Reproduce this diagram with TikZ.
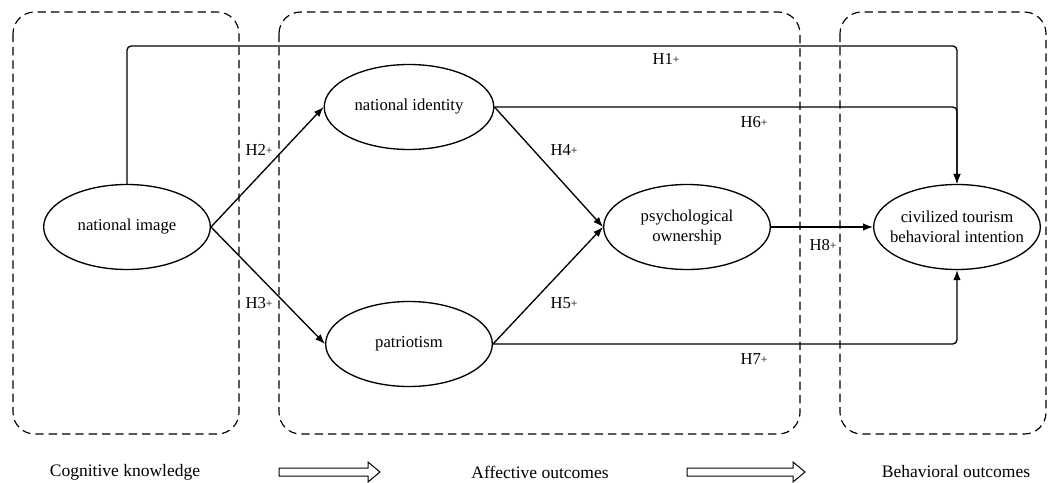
\documentclass[tikz,border=0pt]{standalone}
\usepackage{fontspec}
\setmainfont{Liberation Serif}
\usetikzlibrary{arrows.meta,shapes.geometric}
\newcommand{\hlab}[1]{H#1\raisebox{.15ex}{\scriptsize+}}

\begin{document}
\begin{tikzpicture}[x=0.6pt,y=-0.6pt,font=\fontsize{10}{12}\selectfont,
        construct/.style={ellipse,draw,line width=0.8pt,minimum width=100pt,minimum height=51pt,align=center},
        group/.style={draw,line width=0.7pt,dash pattern=on 5pt off 3pt,rounded corners=13pt},
        arrow/.style={-{Latex[length=6pt,width=4.5pt]},line width=0.8pt,rounded corners=2.5pt},
        hyp/.style={inner sep=1pt},
        stage/.style={font=\fontsize{10.5}{12}\selectfont},
        hollow/.style={draw,line width=0.6pt}]
  \useasboundingbox (0,0) rectangle (1056,483);

  % stage frames
  \draw[group] (13,12) rectangle (239,434);
  \draw[group] (279,12) rectangle (800,434);
  \draw[group] (840,12) rectangle (1046,434);

  % constructs
  \node[construct] (img) at (127,227) {national image};
  \node[construct] (ident) at (409,107) {national identity};
  \node[construct] (pat) at (409,344) {patriotism};
  \node[construct] (own) at (687,227) {psychological\\ownership};
  \node[construct,label={[align=center]center:civilized tourism\\behavioral intention}] (civ) at (957,227) {};
  \coordinate (top) at (540,46);

  % hypotheses
  \draw[arrow] (img.north) |- (top) -| (civ.north);
  \draw[arrow] (ident.east) -| (civ.north);
  \draw[arrow] (pat.east) -| (civ.south);
  \draw[arrow] (img.east) -- (ident.west);
  \draw[arrow] (img.east) -- (pat.west);
  \draw[arrow] (ident.east) -- (own.west);
  \draw[arrow] (pat.east) -- (own.west);
  \draw[arrow] (own.east) -- (civ.west);

  \node[hyp] (h1) at (666,59) {\hlab{1}};
  \node[hyp] (h2) at (259,150) {\hlab{2}};
  \node[hyp] (h3) at (259,303) {\hlab{3}};
  \node[hyp] (h4) at (564,150) {\hlab{4}};
  \node[hyp] (h5) at (564,303) {\hlab{5}};
  \node[hyp] (h6) at (754,122) {\hlab{6}};
  \node[hyp] (h7) at (754,359) {\hlab{7}};
  \node[hyp] (h8) at (823,245) {\hlab{8}};

  % stage captions
  \node[stage] (cog) at (125,472) {Cognitive knowledge};
  \node[stage] (aff) at (540,472) {Affective outcomes};
  \node[stage] (beh) at (956,472) {Behavioral outcomes};
  \foreach \a/\b in {279/380,687/805}
    \draw[hollow] (\a,468) -- (\b-12,468) -- (\b-12,462) -- (\b,472) -- (\b-12,482) -- (\b-12,476) -- (\a,476) -- cycle;
\end{tikzpicture}
\end{document}
